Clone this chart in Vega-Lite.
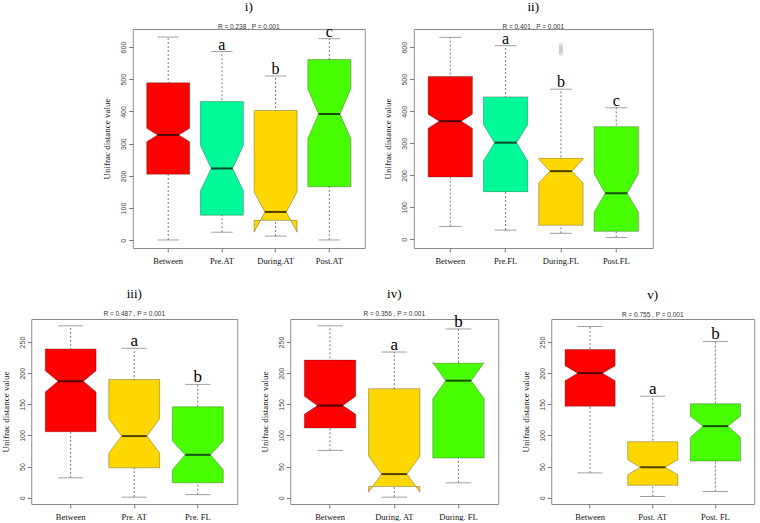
{
  "$schema": "https://vega.github.io/schema/vega-lite/v6.json",
  "background": "white",
  "padding": {"left": 0, "right": 2, "top": 0, "bottom": 0},
  "datasets": {
    "notch": [
      {"vi": 1, "off": -0.4}, {"vi": 2, "off": -0.4}, {"vi": 3, "off": -0.2}, {"vi": 4, "off": -0.4}, {"vi": 5, "off": -0.4},
      {"vi": 6, "off": 0.4}, {"vi": 7, "off": 0.4}, {"vi": 8, "off": 0.2}, {"vi": 9, "off": 0.4}, {"vi": 10, "off": 0.4}
    ],
    "p1": [
      {"group": "Between", "min": 1, "q1": 205, "nlo": 306, "med": 327, "nhi": 348, "q3": 489, "max": 631, "letter": ""},
      {"group": "Pre.AT", "min": 25, "q1": 78, "nlo": 154, "med": 223, "nhi": 294, "q3": 431, "max": 586, "letter": "a"},
      {"group": "During.AT", "min": 13, "q1": 62, "nlo": 25, "med": 88, "nhi": 150, "q3": 403, "max": 510, "letter": "b"},
      {"group": "Post.AT", "min": 1, "q1": 166, "nlo": 316, "med": 392, "nhi": 470, "q3": 561, "max": 626, "letter": "c"}
    ],
    "p2": [
      {"group": "Between", "min": 40, "q1": 195, "nlo": 347, "med": 369, "nhi": 391, "q3": 509, "max": 631, "letter": ""},
      {"group": "Pre.FL", "min": 29, "q1": 149, "nlo": 245, "med": 302, "nhi": 359, "q3": 445, "max": 605, "letter": "a"},
      {"group": "During.FL", "min": 19, "q1": 44, "nlo": 176, "med": 213, "nhi": 250, "q3": 253, "max": 469, "letter": "b"},
      {"group": "Post.FL", "min": 6, "q1": 25, "nlo": 85, "med": 144, "nhi": 205, "q3": 352, "max": 411, "letter": "c"}
    ],
    "p2out": [
      {"group": "During.FL", "value": 605},
      {"group": "During.FL", "value": 599},
      {"group": "During.FL", "value": 593},
      {"group": "During.FL", "value": 587},
      {"group": "During.FL", "value": 581}
    ],
    "p3": [
      {"group": "Between", "min": 32, "q1": 106, "nlo": 170, "med": 187, "nhi": 204, "q3": 239, "max": 276, "letter": ""},
      {"group": "Pre. AT", "min": 1, "q1": 48, "nlo": 72, "med": 99, "nhi": 127, "q3": 190, "max": 240, "letter": "a"},
      {"group": "Pre. FL", "min": 5, "q1": 24, "nlo": 45, "med": 69, "nhi": 91, "q3": 146, "max": 182, "letter": "b"}
    ],
    "p4": [
      {"group": "Between", "min": 76, "q1": 112, "nlo": 134, "med": 148, "nhi": 163, "q3": 221, "max": 276, "letter": ""},
      {"group": "During. AT", "min": 1, "q1": 18, "nlo": 9, "med": 38, "nhi": 67, "q3": 175, "max": 234, "letter": "a"},
      {"group": "During. FL", "min": 24, "q1": 64, "nlo": 159, "med": 188, "nhi": 217, "q3": 216, "max": 271, "letter": "b"}
    ],
    "p5": [
      {"group": "Between", "min": 40, "q1": 147, "nlo": 188, "med": 200, "nhi": 212, "q3": 238, "max": 275, "letter": ""},
      {"group": "Post. AT", "min": 2, "q1": 20, "nlo": 37, "med": 49, "nhi": 61, "q3": 90, "max": 163, "letter": "a"},
      {"group": "Post. FL", "min": 10, "q1": 59, "nlo": 97, "med": 115, "nhi": 131, "q3": 151, "max": 251, "letter": "b"}
    ]
  },
  "center": true,
  "spacing": 22,
  "resolve": {"scale": {"x": "independent", "y": "independent", "fill": "independent", "xOffset": "independent"}},
  "vconcat": [
    {
      "spacing": 17,
      "resolve": {"scale": {"x": "independent", "y": "independent", "fill": "independent", "xOffset": "independent"}},
      "hconcat": [
        {
          "width": 232, "height": 219,
          "title": {"text": "i)", "subtitle": "R = 0.238 , P = 0.001"},
          "data": {"name": "p1"},
          "encoding": {
            "x": {"field": "group", "type": "nominal", "sort": null, "title": null,
              "scale": {"domain": ["Between", "Pre.AT", "During.AT", "Post.AT"], "paddingInner": 0, "paddingOuter": 0.16},
              "axis": {"labelAngle": 0}}
          },
          "layer": [
            {"mark": {"type": "rule", "color": "#555", "strokeDash": [2, 2], "strokeWidth": 0.8},
              "encoding": {"y": {"field": "min", "type": "quantitative", "title": "Unifrac distance value", "scale": {"domain": [-24, 656], "nice": false, "zero": false}, "axis": {"values": [0, 100, 200, 300, 400, 500, 600]}}, "y2": {"field": "max"}}},
            {"mark": {"type": "tick", "size": 21.5, "thickness": 1, "color": "#777"},
              "encoding": {"y": {"field": "min", "type": "quantitative", "title": "Unifrac distance value", "axis": {"values": [0, 100, 200, 300, 400, 500, 600]}}}},
            {"mark": {"type": "tick", "size": 21.5, "thickness": 1, "color": "#777"},
              "encoding": {"y": {"field": "max", "type": "quantitative", "title": "Unifrac distance value", "axis": {"values": [0, 100, 200, 300, 400, 500, 600]}}}},
            {"transform": [
                {"fold": ["q1", "nlo", "med", "nhi", "q3", "q3", "nhi", "med", "nlo", "q1"], "as": ["k", "v"]},
                {"window": [{"op": "row_number", "as": "vi"}], "groupby": ["group"]},
                {"lookup": "vi", "from": {"data": {"name": "notch"}, "key": "vi", "fields": ["off"]}}
              ],
              "mark": {"type": "line", "interpolate": "linear-closed", "stroke": "#000", "strokeOpacity": 0.35, "strokeWidth": 0.8},
              "encoding": {
                "xOffset": {"field": "off", "type": "quantitative", "scale": {"domain": [-0.5, 0.5], "nice": false, "zero": false}},
                "y": {"field": "v", "type": "quantitative", "title": "Unifrac distance value", "axis": {"values": [0, 100, 200, 300, 400, 500, 600]}},
                "detail": {"field": "group"},
                "order": {"field": "vi", "type": "quantitative"},
                "fill": {"field": "group", "type": "nominal", "legend": null,
                  "scale": {"domain": ["Between", "Pre.AT", "During.AT", "Post.AT"], "range": ["#ff0000", "#00fa9a", "#ffd700", "#47ff00"]}}
              }},
            {"mark": {"type": "tick", "size": 21.5, "thickness": 2, "color": "#000"},
              "encoding": {"y": {"field": "med", "type": "quantitative", "title": "Unifrac distance value", "axis": {"values": [0, 100, 200, 300, 400, 500, 600]}}}},
            {"mark": {"type": "text", "font": "Liberation Serif", "fontSize": 16, "baseline": "alphabetic", "dy": -2, "color": "#000"},
              "encoding": {"y": {"field": "max", "type": "quantitative", "title": "Unifrac distance value", "axis": {"values": [0, 100, 200, 300, 400, 500, 600]}}, "text": {"field": "letter"}}}
          ]
        },
        {
          "width": 239, "height": 219,
          "title": {"text": "ii)", "subtitle": "R = 0.401 , P = 0.001"},
          "data": {"name": "p2"},
          "encoding": {
            "x": {"field": "group", "type": "nominal", "sort": null, "title": null,
              "scale": {"domain": ["Between", "Pre.FL", "During.FL", "Post.FL"], "paddingInner": 0, "paddingOuter": 0.16},
              "axis": {"labelAngle": 0}}
          },
          "layer": [
            {"mark": {"type": "rule", "color": "#555", "strokeDash": [2, 2], "strokeWidth": 0.8},
              "encoding": {"y": {"field": "min", "type": "quantitative", "title": "Unifrac distance value", "scale": {"domain": [-27, 657], "nice": false, "zero": false}, "axis": {"values": [0, 100, 200, 300, 400, 500, 600]}}, "y2": {"field": "max"}}},
            {"mark": {"type": "tick", "size": 22, "thickness": 1, "color": "#777"},
              "encoding": {"y": {"field": "min", "type": "quantitative", "title": "Unifrac distance value", "axis": {"values": [0, 100, 200, 300, 400, 500, 600]}}}},
            {"mark": {"type": "tick", "size": 22, "thickness": 1, "color": "#777"},
              "encoding": {"y": {"field": "max", "type": "quantitative", "title": "Unifrac distance value", "axis": {"values": [0, 100, 200, 300, 400, 500, 600]}}}},
            {"transform": [
                {"fold": ["q1", "nlo", "med", "nhi", "q3", "q3", "nhi", "med", "nlo", "q1"], "as": ["k", "v"]},
                {"window": [{"op": "row_number", "as": "vi"}], "groupby": ["group"]},
                {"lookup": "vi", "from": {"data": {"name": "notch"}, "key": "vi", "fields": ["off"]}}
              ],
              "mark": {"type": "line", "interpolate": "linear-closed", "stroke": "#000", "strokeOpacity": 0.35, "strokeWidth": 0.8},
              "encoding": {
                "xOffset": {"field": "off", "type": "quantitative", "scale": {"domain": [-0.5, 0.5], "nice": false, "zero": false}},
                "y": {"field": "v", "type": "quantitative", "title": "Unifrac distance value", "axis": {"values": [0, 100, 200, 300, 400, 500, 600]}},
                "detail": {"field": "group"},
                "order": {"field": "vi", "type": "quantitative"},
                "fill": {"field": "group", "type": "nominal", "legend": null,
                  "scale": {"domain": ["Between", "Pre.FL", "During.FL", "Post.FL"], "range": ["#ff0000", "#00fa9a", "#ffd700", "#47ff00"]}}
              }},
            {"mark": {"type": "tick", "size": 22, "thickness": 2, "color": "#000"},
              "encoding": {"y": {"field": "med", "type": "quantitative", "title": "Unifrac distance value", "axis": {"values": [0, 100, 200, 300, 400, 500, 600]}}}},
            {"data": {"name": "p2out"},
              "mark": {"type": "point", "shape": "circle", "filled": false, "size": 10, "color": "#999", "strokeWidth": 0.7},
              "encoding": {"y": {"field": "value", "type": "quantitative", "title": "Unifrac distance value", "axis": {"values": [0, 100, 200, 300, 400, 500, 600]}}}},
            {"mark": {"type": "text", "font": "Liberation Serif", "fontSize": 16, "baseline": "alphabetic", "dy": -2, "color": "#000"},
              "encoding": {"y": {"field": "max", "type": "quantitative", "title": "Unifrac distance value", "axis": {"values": [0, 100, 200, 300, 400, 500, 600]}}, "text": {"field": "letter"}}}
          ]
        }
      ]
    },
    {
      "spacing": 21,
      "resolve": {"scale": {"x": "independent", "y": "independent", "fill": "independent", "xOffset": "independent"}},
      "hconcat": [
        {
          "width": 206, "height": 185,
          "title": {"text": "iii)", "subtitle": "R = 0.487 , P = 0.001"},
          "data": {"name": "p3"},
          "encoding": {
            "x": {"field": "group", "type": "nominal", "sort": null, "title": null,
              "scale": {"domain": ["Between", "Pre. AT", "Pre. FL"], "paddingInner": 0, "paddingOuter": 0.12},
              "axis": {"labelAngle": 0}}
          },
          "layer": [
            {"mark": {"type": "rule", "color": "#555", "strokeDash": [2, 2], "strokeWidth": 0.8},
              "encoding": {"y": {"field": "min", "type": "quantitative", "title": "Unifrac distance value", "scale": {"domain": [-10, 287], "nice": false, "zero": false}, "axis": {"values": [0, 50, 100, 150, 200, 250]}}, "y2": {"field": "max"}}},
            {"mark": {"type": "tick", "size": 25, "thickness": 1, "color": "#777"},
              "encoding": {"y": {"field": "min", "type": "quantitative", "title": "Unifrac distance value", "axis": {"values": [0, 50, 100, 150, 200, 250]}}}},
            {"mark": {"type": "tick", "size": 25, "thickness": 1, "color": "#777"},
              "encoding": {"y": {"field": "max", "type": "quantitative", "title": "Unifrac distance value", "axis": {"values": [0, 50, 100, 150, 200, 250]}}}},
            {"transform": [
                {"fold": ["q1", "nlo", "med", "nhi", "q3", "q3", "nhi", "med", "nlo", "q1"], "as": ["k", "v"]},
                {"window": [{"op": "row_number", "as": "vi"}], "groupby": ["group"]},
                {"lookup": "vi", "from": {"data": {"name": "notch"}, "key": "vi", "fields": ["off"]}}
              ],
              "mark": {"type": "line", "interpolate": "linear-closed", "stroke": "#000", "strokeOpacity": 0.35, "strokeWidth": 0.8},
              "encoding": {
                "xOffset": {"field": "off", "type": "quantitative", "scale": {"domain": [-0.5, 0.5], "nice": false, "zero": false}},
                "y": {"field": "v", "type": "quantitative", "title": "Unifrac distance value", "axis": {"values": [0, 50, 100, 150, 200, 250]}},
                "detail": {"field": "group"},
                "order": {"field": "vi", "type": "quantitative"},
                "fill": {"field": "group", "type": "nominal", "legend": null,
                  "scale": {"domain": ["Between", "Pre. AT", "Pre. FL"], "range": ["#ff0000", "#ffd700", "#47ff00"]}}
              }},
            {"mark": {"type": "tick", "size": 25, "thickness": 2, "color": "#000"},
              "encoding": {"y": {"field": "med", "type": "quantitative", "title": "Unifrac distance value", "axis": {"values": [0, 50, 100, 150, 200, 250]}}}},
            {"mark": {"type": "text", "font": "Liberation Serif", "fontSize": 17, "baseline": "alphabetic", "dy": -2, "color": "#000"},
              "encoding": {"y": {"field": "max", "type": "quantitative", "title": "Unifrac distance value", "axis": {"values": [0, 50, 100, 150, 200, 250]}}, "text": {"field": "letter"}}}
          ]
        },
        {
          "width": 208, "height": 185,
          "title": {"text": "iv)", "subtitle": "R = 0.356 , P = 0.001"},
          "data": {"name": "p4"},
          "encoding": {
            "x": {"field": "group", "type": "nominal", "sort": null, "title": null,
              "scale": {"domain": ["Between", "During. AT", "During. FL"], "paddingInner": 0, "paddingOuter": 0.12},
              "axis": {"labelAngle": 0}}
          },
          "layer": [
            {"mark": {"type": "rule", "color": "#555", "strokeDash": [2, 2], "strokeWidth": 0.8},
              "encoding": {"y": {"field": "min", "type": "quantitative", "title": "Unifrac distance value", "scale": {"domain": [-10, 287], "nice": false, "zero": false}, "axis": {"values": [0, 50, 100, 150, 200, 250]}}, "y2": {"field": "max"}}},
            {"mark": {"type": "tick", "size": 25.5, "thickness": 1, "color": "#777"},
              "encoding": {"y": {"field": "min", "type": "quantitative", "title": "Unifrac distance value", "axis": {"values": [0, 50, 100, 150, 200, 250]}}}},
            {"mark": {"type": "tick", "size": 25.5, "thickness": 1, "color": "#777"},
              "encoding": {"y": {"field": "max", "type": "quantitative", "title": "Unifrac distance value", "axis": {"values": [0, 50, 100, 150, 200, 250]}}}},
            {"transform": [
                {"fold": ["q1", "nlo", "med", "nhi", "q3", "q3", "nhi", "med", "nlo", "q1"], "as": ["k", "v"]},
                {"window": [{"op": "row_number", "as": "vi"}], "groupby": ["group"]},
                {"lookup": "vi", "from": {"data": {"name": "notch"}, "key": "vi", "fields": ["off"]}}
              ],
              "mark": {"type": "line", "interpolate": "linear-closed", "stroke": "#000", "strokeOpacity": 0.35, "strokeWidth": 0.8},
              "encoding": {
                "xOffset": {"field": "off", "type": "quantitative", "scale": {"domain": [-0.5, 0.5], "nice": false, "zero": false}},
                "y": {"field": "v", "type": "quantitative", "title": "Unifrac distance value", "axis": {"values": [0, 50, 100, 150, 200, 250]}},
                "detail": {"field": "group"},
                "order": {"field": "vi", "type": "quantitative"},
                "fill": {"field": "group", "type": "nominal", "legend": null,
                  "scale": {"domain": ["Between", "During. AT", "During. FL"], "range": ["#ff0000", "#ffd700", "#47ff00"]}}
              }},
            {"mark": {"type": "tick", "size": 25.5, "thickness": 2, "color": "#000"},
              "encoding": {"y": {"field": "med", "type": "quantitative", "title": "Unifrac distance value", "axis": {"values": [0, 50, 100, 150, 200, 250]}}}},
            {"mark": {"type": "text", "font": "Liberation Serif", "fontSize": 17, "baseline": "alphabetic", "dy": -2, "color": "#000"},
              "encoding": {"y": {"field": "max", "type": "quantitative", "title": "Unifrac distance value", "axis": {"values": [0, 50, 100, 150, 200, 250]}}, "text": {"field": "letter"}}}
          ]
        },
        {
          "width": 203, "height": 185,
          "title": {"text": "v)", "subtitle": "R = 0.755 , P = 0.001"},
          "data": {"name": "p5"},
          "encoding": {
            "x": {"field": "group", "type": "nominal", "sort": null, "title": null,
              "scale": {"domain": ["Between", "Post. AT", "Post. FL"], "paddingInner": 0, "paddingOuter": 0.12},
              "axis": {"labelAngle": 0}}
          },
          "layer": [
            {"mark": {"type": "rule", "color": "#555", "strokeDash": [2, 2], "strokeWidth": 0.8},
              "encoding": {"y": {"field": "min", "type": "quantitative", "title": "Unifrac distance value", "scale": {"domain": [-10, 287], "nice": false, "zero": false}, "axis": {"values": [0, 50, 100, 150, 200, 250]}}, "y2": {"field": "max"}}},
            {"mark": {"type": "tick", "size": 25, "thickness": 1, "color": "#777"},
              "encoding": {"y": {"field": "min", "type": "quantitative", "title": "Unifrac distance value", "axis": {"values": [0, 50, 100, 150, 200, 250]}}}},
            {"mark": {"type": "tick", "size": 25, "thickness": 1, "color": "#777"},
              "encoding": {"y": {"field": "max", "type": "quantitative", "title": "Unifrac distance value", "axis": {"values": [0, 50, 100, 150, 200, 250]}}}},
            {"transform": [
                {"fold": ["q1", "nlo", "med", "nhi", "q3", "q3", "nhi", "med", "nlo", "q1"], "as": ["k", "v"]},
                {"window": [{"op": "row_number", "as": "vi"}], "groupby": ["group"]},
                {"lookup": "vi", "from": {"data": {"name": "notch"}, "key": "vi", "fields": ["off"]}}
              ],
              "mark": {"type": "line", "interpolate": "linear-closed", "stroke": "#000", "strokeOpacity": 0.35, "strokeWidth": 0.8},
              "encoding": {
                "xOffset": {"field": "off", "type": "quantitative", "scale": {"domain": [-0.5, 0.5], "nice": false, "zero": false}},
                "y": {"field": "v", "type": "quantitative", "title": "Unifrac distance value", "axis": {"values": [0, 50, 100, 150, 200, 250]}},
                "detail": {"field": "group"},
                "order": {"field": "vi", "type": "quantitative"},
                "fill": {"field": "group", "type": "nominal", "legend": null,
                  "scale": {"domain": ["Between", "Post. AT", "Post. FL"], "range": ["#ff0000", "#ffd700", "#47ff00"]}}
              }},
            {"mark": {"type": "tick", "size": 25, "thickness": 2, "color": "#000"},
              "encoding": {"y": {"field": "med", "type": "quantitative", "title": "Unifrac distance value", "axis": {"values": [0, 50, 100, 150, 200, 250]}}}},
            {"mark": {"type": "text", "font": "Liberation Serif", "fontSize": 17, "baseline": "alphabetic", "dy": -2, "color": "#000"},
              "encoding": {"y": {"field": "max", "type": "quantitative", "title": "Unifrac distance value", "axis": {"values": [0, 50, 100, 150, 200, 250]}}, "text": {"field": "letter"}}}
          ]
        }
      ]
    }
  ],
  "config": {
    "view": {"stroke": "#8a8a8a", "strokeWidth": 1},
    "font": "Liberation Sans",
    "axis": {"grid": false, "domain": false, "tickColor": "#777", "tickSize": 4, "labelColor": "#444", "titleFontWeight": "normal"},
    "axisY": {"labelAngle": 270, "labelAlign": "center", "labelBaseline": "bottom", "labelOverlap": false, "labelFont": "Liberation Sans", "labelFontSize": 7, "labelPadding": 2, "titleFont": "Liberation Serif", "titleFontSize": 9, "titleColor": "#111", "titlePadding": 8},
    "axisX": {"labelFont": "Liberation Serif", "labelFontSize": 8.5, "labelColor": "#111", "labelPadding": 4},
    "title": {"font": "Liberation Serif", "fontSize": 13, "fontWeight": "normal", "color": "#000", "subtitleFont": "Liberation Sans", "subtitleFontSize": 6.5, "subtitleColor": "#333", "subtitlePadding": 10, "offset": -8, "anchor": "middle", "frame": "group"}
  }
}
